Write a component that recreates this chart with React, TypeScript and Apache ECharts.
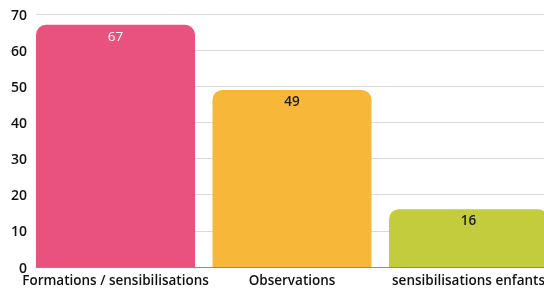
import React, { useEffect, useRef } from "react";
import * as echarts from "echarts";

const categories = ["Formations / sensibilisations", "Observations", "sensibilisations enfants"];
const values = [67, 49, 16];
const barColors = ["#E9527E", "#F7B738", "#C2CC3C"];
const labelColors = ["#ffffff", "#1a1a1a", "#1a1a1a"];
const yTicks = { min: 0, max: 70, interval: 10 };
const positions = categories.map((_, i) => i);

const FONT = "'Open Sans', sans-serif";

export default function App() {
  const ref = useRef<HTMLDivElement>(null);
  useEffect(() => {
    if (!ref.current) return;
    const chart = echarts.init(ref.current, null, { renderer: "svg" });
    // bar slot spacing ~176.5px, first bar centred at x=115.5 within a grid from 27 to 544
    const gridLeft = 27;
    const gridWidth = 517;
    const spacing = 176.5;
    const xMin = -(115.5 - gridLeft) / spacing;
    const xMax = xMin + gridWidth / spacing;
    chart.setOption({
      animation: false,
      grid: [
        { left: 36, right: 0, top: 14, bottom: 21, outerBoundsMode: "none" },
        { left: gridLeft, right: 0, top: 14, bottom: 21, outerBoundsMode: "none" },
      ],
      xAxis: [
        {
          type: "category",
          gridIndex: 0,
          data: categories,
          axisLine: { show: true, lineStyle: { color: "#8c8c8c", width: 1 } },
          axisTick: { show: false },
          axisLabel: { show: false },
          splitLine: { show: false },
        },
        {
          type: "value",
          gridIndex: 1,
          min: xMin,
          max: xMax,
          axisLine: { show: false },
          axisTick: { show: false },
          splitLine: { show: false },
          axisLabel: {
            customValues: positions,
            formatter: (v: number) => categories[Math.round(v)] ?? "",
            margin: 6,
            lineHeight: 14,
            color: "#111",
            fontSize: 13.5,
            fontWeight: 600,
            fontFamily: FONT,
            showMinLabel: true,
            showMaxLabel: true,
          },
        },
      ],
      yAxis: [
        {
          type: "value",
          gridIndex: 0,
          min: yTicks.min,
          max: yTicks.max,
          interval: yTicks.interval,
          axisLine: { show: false },
          axisTick: { show: false },
          splitLine: { lineStyle: { color: "#d9d9d9", width: 1 } },
          axisLabel: {
            margin: 9,
            lineHeight: 11,
            color: "#111",
            fontSize: 14,
            fontWeight: 600,
            fontFamily: FONT,
          },
        },
        {
          type: "value",
          gridIndex: 1,
          min: yTicks.min,
          max: yTicks.max,
          interval: yTicks.interval,
          show: false,
          splitLine: { show: false },
        },
      ],
      series: [
        {
          type: "bar",
          xAxisIndex: 1,
          yAxisIndex: 1,
          barWidth: 159,
          data: values.map((v, i) => ({
            value: [positions[i], v],
            itemStyle: { color: barColors[i], borderRadius: [10, 10, 0, 0] },
            label: { color: labelColors[i], fontWeight: i === 0 ? 400 : 600 },
          })),
          label: {
            show: true,
            position: "insideTop",
            distance: 4,
            fontSize: 13.5,
            fontFamily: FONT,
            formatter: (p: any) => String(p.value[1]),
          },
        },
      ],
    });
    return () => chart.dispose();
  }, []);
  return (
    <div
      ref={ref}
      style={{ position: "fixed", left: 0, top: 0, width: 544, height: 288 }}
    />
  );
}
